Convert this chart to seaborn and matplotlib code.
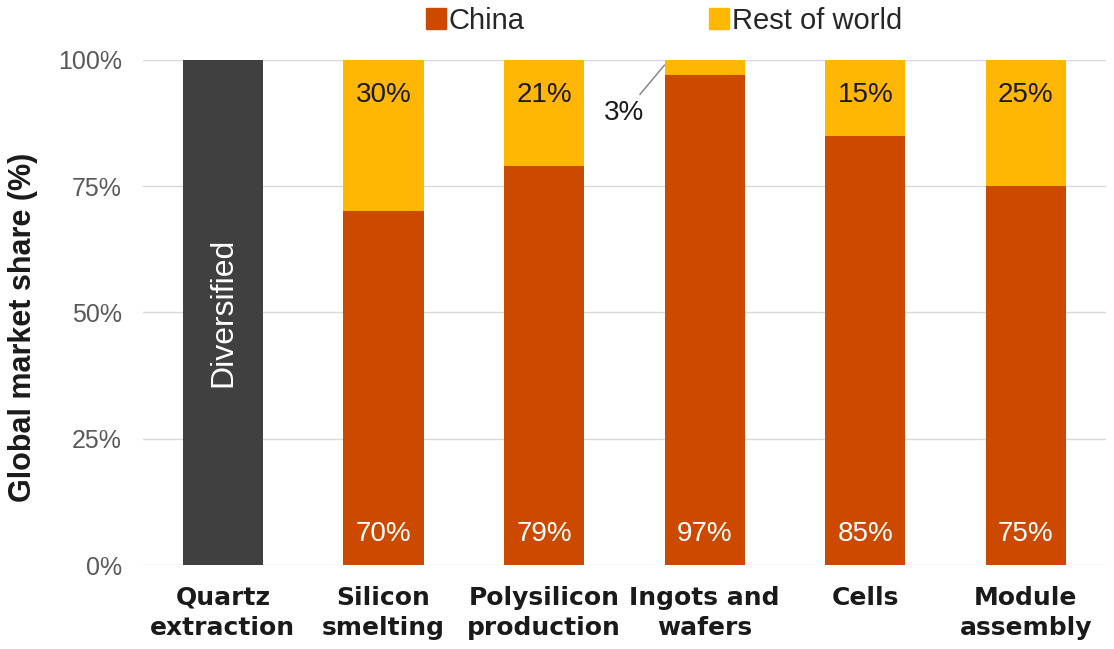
import numpy as np
import pandas as pd
import matplotlib
matplotlib.use("Agg")
import matplotlib.pyplot as plt
import seaborn as sns
from matplotlib.patches import Patch

stages = ["Quartz\nextraction", "Silicon\nsmelting", "Polysilicon\nproduction",
          "Ingots and\nwafers", "Cells", "Module\nassembly"]
china = [0, 70, 79, 97, 85, 75]
rest = [0, 30, 21, 3, 15, 25]
diversified = [100, 0, 0, 0, 0, 0]
yticks = [0, 25, 50, 75, 100]
ytick_labels = ["0%", "25%", "50%", "75%", "100%"]

C_CHINA = "#CC4A00"
C_REST = "#FFB703"
C_DIV = "#404040"

sns.set_theme(style="white")
plt.rcParams['font.family'] = ['Liberation Sans', 'DejaVu Sans']

df = pd.DataFrame({"stage": stages, "china": china, "rest": rest, "div": diversified})
df["total"] = df["china"] + df["rest"] + df["div"]

fig = plt.figure(figsize=(11.14, 6.49), dpi=100)
ax = fig.add_axes([0.128, 0.1294, 0.865, 0.7782])

pal_total = {s: (C_DIV if d > 0 else C_REST) for s, d in zip(stages, diversified)}
sns.barplot(data=df, x="stage", y="total", hue="stage", palette=pal_total,
            width=0.5, legend=False, ax=ax, saturation=1, order=stages,
            linewidth=0, edgecolor="none")
sns.barplot(data=df, x="stage", y="china", color=C_CHINA, width=0.5,
            ax=ax, saturation=1, order=stages, linewidth=0, edgecolor="none")

ax.set_ylim(0, 100)
ax.set_xlim(-0.5, 5.5)
ax.set_yticks(yticks)
ax.set_yticklabels(ytick_labels, color="#595959", fontsize=18)
ax.tick_params(axis="y", pad=15, length=0)
ax.tick_params(axis="x", pad=15, length=0)
ax.set_xticks(range(len(stages)))
ax.set_xticklabels(stages, fontsize=18, fontweight="bold",
                   family=['Liberation Sans Narrow', 'DejaVu Sans'],
                   color="#1a1a1a", linespacing=1.3)
ax.set_xlabel("")
ax.set_ylabel("Global market share (%)", fontsize=22, fontweight="bold",
              color="#1a1a1a", va="center")
ax.yaxis.set_label_coords(-0.1236, 0.47)
ax.yaxis.grid(True, color="#D9D9D9", linewidth=1)
ax.set_axisbelow(True)
for sp in ax.spines.values():
    sp.set_visible(False)

# labels
for i, (c, r, d) in enumerate(zip(china, rest, diversified)):
    if d > 0:
        ax.text(i, 50, "Diversified", rotation=90, ha="center", va="center",
                color="white", fontsize=23)
        continue
    ax.text(i, 3.5, f"{c}%", ha="center", va="bottom", color="white", fontsize=20)
    if r >= 10:
        ax.text(i, 93, f"{r}%", ha="center", va="center", color="#1a1a1a", fontsize=20)
    else:
        ax.annotate(f"{r}%", xy=(i - 0.25, 99), xytext=(i - 0.5, 89.5),
                    ha="center", va="center", fontsize=20, color="#1a1a1a",
                    arrowprops=dict(arrowstyle="-", color="#7f7f7f", lw=1,
                                    shrinkA=2, shrinkB=0))

handles = [Patch(color=C_CHINA), Patch(color=C_REST)]
leg = fig.legend(handles, ["China", "Rest of world"], loc="center",
                 bbox_to_anchor=(0.596, 0.968), ncol=2, frameon=False,
                 fontsize=21, handlelength=0.7, handleheight=0.7,
                 handletextpad=0.1, columnspacing=6.3, borderpad=0)

fig.savefig("out.png", dpi=100)
